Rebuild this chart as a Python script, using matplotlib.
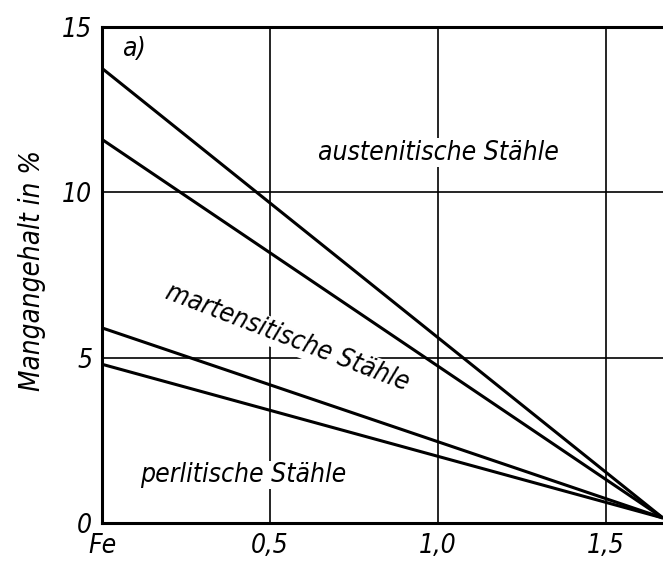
import numpy as np
import matplotlib
matplotlib.use("Agg")
import matplotlib.pyplot as plt

# Mn content (%) at the Fe side (x = 0) and at the common end point
x_start = [0.0, 0.0, 0.0, 0.0]
y_start = [13.75, 11.6, 5.9, 4.8]
x_end = [1.67, 1.67, 1.67, 1.67]
y_end = [0.15, 0.15, 0.15, 0.15]

x_ticks = [0.0, 0.5, 1.0, 1.5]
x_ticklabels = ["Fe", "0,5", "1,0", "1,5"]
y_ticks = [0, 5, 10, 15]
y_ticklabels = ["0", "5", "10", "15"]

region_labels = ["austenitische Stähle", "martensitische Stähle", "perlitische Stähle"]

FONT = ["DejaVu Sans"]
TXT = dict(family=FONT, style="italic", stretch="condensed")
WHITE = dict(facecolor="white", edgecolor="none", pad=1.0)

fig = plt.figure(figsize=(6.63, 5.70), dpi=100)
ax = fig.add_axes([0.154, 0.0825, 0.846, 0.870])

for xs, ys, xe, ye in zip(x_start, y_start, x_end, y_end):
    ax.plot([xs, xe], [ys, ye], color="black", lw=2.2, solid_capstyle="butt", zorder=3)

ax.set_xlim(0, 1.67)
ax.set_ylim(0, 15)
ax.set_xticks(x_ticks)
ax.set_xticklabels(x_ticklabels)
ax.set_yticks(y_ticks)
ax.set_yticklabels(y_ticklabels)
for lab in ax.get_xticklabels() + ax.get_yticklabels():
    lab.set_family(FONT)
    lab.set_style("italic")
    lab.set_stretch("condensed")
    lab.set_fontsize(19)
ax.tick_params(length=0, pad=7)

ax.grid(True, color="black", lw=1.2)
ax.set_axisbelow(True)
for side in ["left", "bottom", "top"]:
    ax.spines[side].set_linewidth(2.2)
ax.spines["right"].set_visible(False)

ax.set_ylabel("Mangangehalt in %", fontsize=20, **TXT)
ax.yaxis.set_label_coords(-0.1, 0.51)

ax.text(0.06, 14.35, "a)", fontsize=19, ha="left", va="center", **TXT)
ax.text(1.0, 11.2, region_labels[0], fontsize=19, ha="center", va="center",
        bbox=WHITE, zorder=2, **TXT)
ax.text(0.55, 5.6, region_labels[1], fontsize=19, ha="center", va="center",
        rotation=-21, rotation_mode="anchor", bbox=WHITE, zorder=2, **TXT)
ax.text(0.42, 1.45, region_labels[2], fontsize=19, ha="center", va="center",
        bbox=WHITE, zorder=2, **TXT)

fig.savefig("out.png", dpi=100)
